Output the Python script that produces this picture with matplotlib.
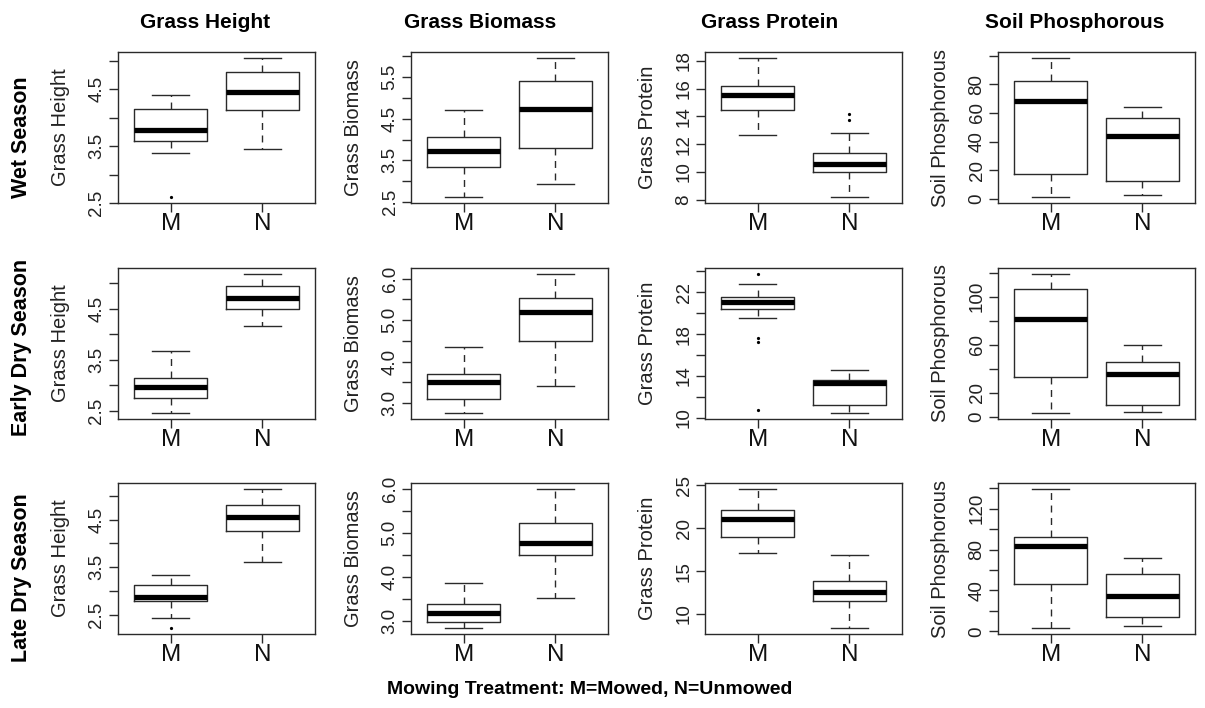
import matplotlib
matplotlib.use("Agg")
import matplotlib.pyplot as plt

plt.rc('font', family=['Liberation Sans', 'DejaVu Sans'])

SEASONS = ["Wet Season", "Early Dry Season", "Late Dry Season"]
VARIABLES = ["Grass Height", "Grass Biomass", "Grass Protein", "Soil Phosphorous"]
TREATMENTS = ["M", "N"]

# [lower whisker, Q1, median, Q3, upper whisker], one row per season
height_M = [[3.38, 3.60, 3.78, 4.16, 4.41],
            [2.45, 2.75, 2.96, 3.14, 3.67],
            [2.43, 2.78, 2.87, 3.13, 3.34]]
height_N = [[3.45, 4.14, 4.45, 4.80, 5.06],
            [4.17, 4.50, 4.72, 4.95, 5.19],
            [3.60, 4.25, 4.55, 4.80, 5.15]]
biomass_M = [[2.61, 3.33, 3.72, 4.07, 4.71],
             [2.75, 3.10, 3.50, 3.70, 4.34],
             [2.84, 2.98, 3.19, 3.39, 3.87]]
biomass_N = [[2.94, 3.79, 4.74, 5.40, 5.97],
             [3.40, 4.50, 5.20, 5.52, 6.12],
             [3.53, 4.50, 4.78, 5.23, 6.00]]
protein_M = [[12.70, 14.50, 15.52, 16.20, 18.24],
             [19.50, 20.40, 21.06, 21.50, 22.80],
             [17.05, 18.95, 21.05, 22.10, 24.60]]
protein_N = [[8.17, 10.00, 10.60, 11.38, 12.80],
             [10.44, 11.20, 13.30, 13.60, 14.60],
             [8.33, 11.50, 12.60, 13.90, 16.90]]
phosph_M = [[1.0, 17.0, 68.4, 82.5, 98.6],
            [3.0, 33.0, 81.6, 106.0, 119.2],
            [2.9, 46.3, 83.3, 92.4, 139.7]]
phosph_N = [[3.0, 12.3, 44.0, 56.3, 64.2],
            [4.1, 9.9, 35.7, 45.6, 60.0],
            [4.9, 13.9, 35.0, 56.1, 71.6]]

# outlying points, one list per season
height_M_out = [[2.60], [], [2.21]]
height_N_out = [[], [], []]
biomass_M_out = [[], [], []]
biomass_N_out = [[], [], []]
protein_M_out = [[], [23.78, 17.6, 17.3, 10.72], []]
protein_N_out = [[14.15, 13.75], [], []]
phosph_M_out = [[], [], []]
phosph_N_out = [[], [], []]

# y axis ticks, blank label where R dropped it
height_ticks = [[2.5, 3.0, 3.5, 4.0, 4.5, 5.0]] * 3
height_labels = [["2.5", "", "3.5", "", "4.5", ""]] * 3
biomass_ticks = [[2.5, 3.0, 3.5, 4.0, 4.5, 5.0, 5.5, 6.0],
                 [3.0, 3.5, 4.0, 4.5, 5.0, 5.5, 6.0],
                 [3.0, 3.5, 4.0, 4.5, 5.0, 5.5, 6.0]]
biomass_labels = [["2.5", "", "3.5", "", "4.5", "", "5.5", ""],
                  ["3.0", "", "4.0", "", "5.0", "", "6.0"],
                  ["3.0", "", "4.0", "", "5.0", "", "6.0"]]
protein_ticks = [[8, 10, 12, 14, 16, 18],
                 [10, 12, 14, 16, 18, 20, 22, 24],
                 [10, 15, 20, 25]]
protein_labels = [["8", "10", "12", "14", "16", "18"],
                  ["10", "", "14", "", "18", "", "22", ""],
                  ["10", "15", "20", "25"]]
phosph_ticks = [[0, 20, 40, 60, 80, 100],
                [0, 20, 40, 60, 80, 100, 120],
                [0, 20, 40, 60, 80, 100, 120, 140]]
phosph_labels = [["0", "20", "40", "60", "80", ""],
                 ["0", "20", "", "60", "", "100", ""],
                 ["0", "", "40", "", "80", "", "120", ""]]

panels = [
    (height_M, height_N, height_M_out, height_N_out, height_ticks, height_labels),
    (biomass_M, biomass_N, biomass_M_out, biomass_N_out, biomass_ticks, biomass_labels),
    (protein_M, protein_N, protein_M_out, protein_N_out, protein_ticks, protein_labels),
    (phosph_M, phosph_N, phosph_M_out, phosph_N_out, phosph_ticks, phosph_labels),
]

W, H = 1205, 708
fig = plt.figure(figsize=(W / 100, H / 100), dpi=100)

col_left = [118, 411, 705, 998]
row_top = [52, 268, 483]
ax_w, ax_h = 197, 151

edge = "#2a2a2a"

for r, season in enumerate(SEASONS):
    for c, var in enumerate(VARIABLES):
        m, n, m_out, n_out, ticks, labels = panels[c]
        ax = fig.add_axes([col_left[c] / W, 1 - (row_top[r] + ax_h) / H, ax_w / W, ax_h / H])

        stats = []
        for name, five, out in ((TREATMENTS[0], m[r], m_out[r]), (TREATMENTS[1], n[r], n_out[r])):
            stats.append(dict(label=name, whislo=five[0], q1=five[1], med=five[2],
                              q3=five[3], whishi=five[4], fliers=out))
        ax.bxp(stats, positions=[1, 2], widths=0.8, capwidths=0.4,
               boxprops=dict(color=edge, linewidth=1.0),
               medianprops=dict(color="black", linewidth=3.8, solid_capstyle="butt"),
               whiskerprops=dict(color=edge, linewidth=1.0, linestyle=(0, (5, 4))),
               capprops=dict(color=edge, linewidth=1.0),
               flierprops=dict(marker="o", markersize=1.3, markerfacecolor="black",
                               markeredgecolor="black", linestyle="none"))

        # R style: pad data range by 4%
        vals = m[r] + n[r] + m_out[r] + n_out[r]
        lo, hi = min(vals), max(vals)
        pad = (hi - lo) * 0.04
        ax.set_ylim(lo - pad, hi + pad)
        ax.set_xlim(0.425, 2.575)

        ax.set_yticks(ticks[r])
        ax.set_yticklabels(labels[r], rotation=90, va="center", fontsize=13.5, color="#222")
        ax.set_xticks([1, 2])
        ax.set_xticklabels(TREATMENTS, fontsize=17.5, color="#111")
        ax.tick_params(direction="out", length=6.5, width=1.0, color=edge)
        ax.tick_params(axis="y", pad=2.5)
        ax.tick_params(axis="x", pad=1)
        for s in ax.spines.values():
            s.set_color(edge)
            s.set_linewidth(1.0)

        ax.text(-0.294, 0.5, var, transform=ax.transAxes, rotation=90,
                ha="center", va="center", fontsize=14.5, color="#222")

# column headers
for x, var in zip([205, 480, 770, 1075], VARIABLES):
    fig.text(x / W, 1 - 22 / H, var, ha="center", va="center",
             fontsize=15, fontweight="bold")

# row headers
for y, season in zip([137, 347, 578], SEASONS):
    fig.text(22 / W, 1 - y / H, season, ha="center", va="center",
             rotation=90, fontsize=15.5, fontweight="bold")

fig.text(590 / W, 1 - 690 / H, "Mowing Treatment: M=Mowed, N=Unmowed",
         ha="center", va="center", fontsize=14, fontweight="bold")

fig.savefig("out.png", dpi=100, facecolor="white")
